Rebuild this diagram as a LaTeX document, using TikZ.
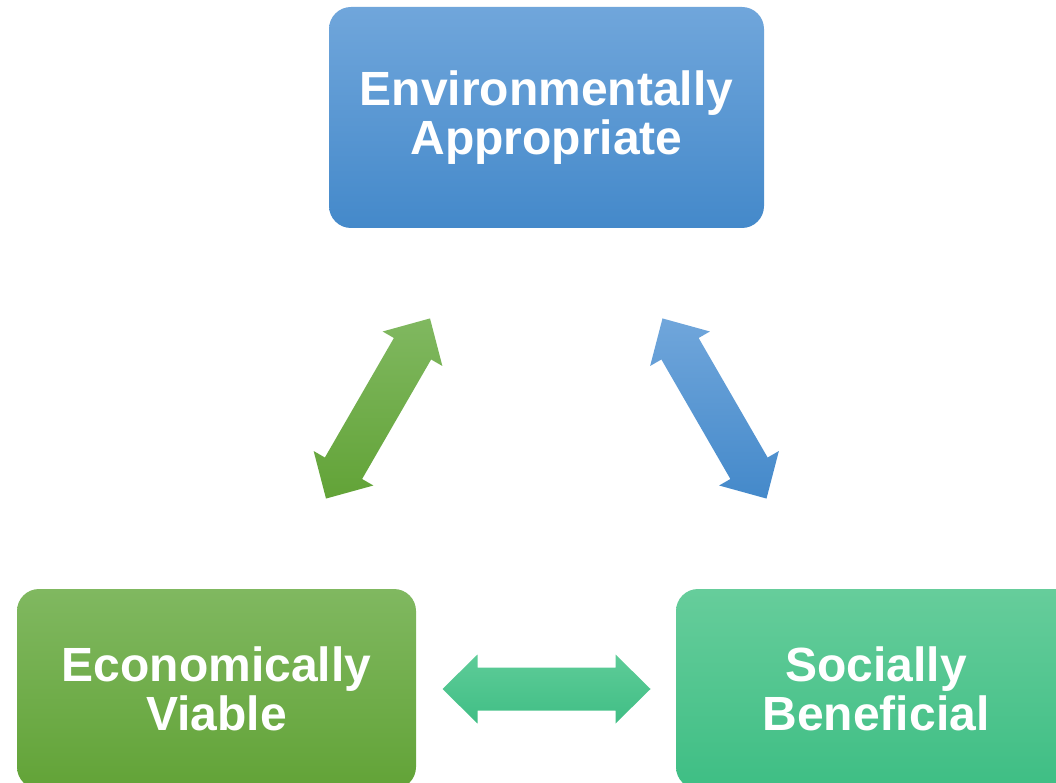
\documentclass[tikz,border=0pt]{standalone}
\usepackage{fontspec}
\setmainfont{Liberation Sans}
\usetikzlibrary{calc}
\definecolor{blueT}{RGB}{112,166,219}
\definecolor{blueB}{RGB}{68,137,202}
\definecolor{greenT}{RGB}{128,184,96}
\definecolor{greenB}{RGB}{98,163,55}
\definecolor{tealT}{RGB}{102,205,155}
\definecolor{tealB}{RGB}{62,190,132}
\definecolor{tealAT}{RGB}{94,204,152}
\definecolor{tealAB}{RGB}{64,190,133}
\newcommand\blockarrow[3]{%
  \path[#3]
    ($(#1)+(#2:104)$)
 -- ($(#1)+(#2:69)+({#2+90}:34.5)$)
 -- ($(#1)+(#2:69)+({#2+90}:21.5)$)
 -- ($(#1)+({#2+180}:69)+({#2+90}:21.5)$)
 -- ($(#1)+({#2+180}:69)+({#2+90}:34.5)$)
 -- ($(#1)+({#2+180}:104)$)
 -- ($(#1)+({#2+180}:69)+({#2-90}:34.5)$)
 -- ($(#1)+({#2+180}:69)+({#2-90}:21.5)$)
 -- ($(#1)+(#2:69)+({#2-90}:21.5)$)
 -- ($(#1)+(#2:69)+({#2-90}:34.5)$)
 -- cycle;}
\tikzset{
  card/.style={rounded corners=22pt, inner sep=0pt, align=center,
    text=white, font=\fontsize{48}{49}\selectfont\bfseries},
  bluefill/.style={top color=blueT, bottom color=blueB},
  greenfill/.style={top color=greenT, bottom color=greenB},
  tealfill/.style={top color=tealT, bottom color=tealB},
  tealarrow/.style={top color=tealAT, bottom color=tealAB},
}
\begin{document}
\begin{tikzpicture}[x=1pt,y=1pt]
\useasboundingbox (0,0) rectangle (1056,782);
\node[card, bluefill, minimum width=435pt, minimum height=221pt] (env) at (546.5,664.5)
  {Environmentally\\Appropriate};
\node[card, greenfill, minimum width=399pt, minimum height=200pt] (eco) at (216.5,93)
  {Economically\\Viable};
\node[card, tealfill, minimum width=400pt, minimum height=200pt] (soc) at (876,93)
  {Socially\\Beneficial};
\coordinate (ae) at (378,373.5);
\coordinate (as) at (714.5,373.5);
\coordinate (es) at (546.5,93);
\blockarrow{ae}{60}{greenfill}
\blockarrow{as}{120}{bluefill}
\blockarrow{es}{0}{tealarrow}
\end{tikzpicture}
\end{document}
